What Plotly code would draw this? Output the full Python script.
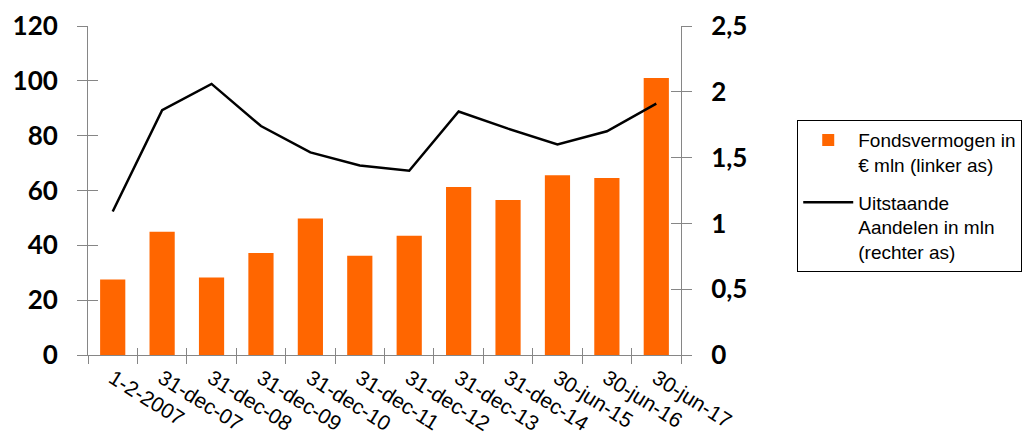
import plotly.graph_objects as go

categories = ["1-2-2007", "31-dec-07", "31-dec-08", "31-dec-09", "31-dec-10", "31-dec-11",
              "31-dec-12", "31-dec-13", "31-dec-14", "30-jun-15", "30-jun-16", "30-jun-17"]
fondsvermogen = [27.5, 45.0, 28.3, 37.2, 49.8, 36.2, 43.5, 61.3, 56.5, 65.6, 64.6, 101.0]
aandelen = [1.09, 1.86, 2.06, 1.74, 1.54, 1.44, 1.40, 1.85, 1.72, 1.60, 1.70, 1.91]
left_ticks = [0, 20, 40, 60, 80, 100, 120]
right_ticks = [0, 0.5, 1, 1.5, 2, 2.5]

AXC = "#868686"
LBL = dict(family="Lato, Calibri, sans-serif", size=26, color="black", weight="bold")
ARIAL = "Liberation Sans, Arial, sans-serif"

fig = go.Figure()
fig.add_trace(go.Bar(
    x=categories, y=fondsvermogen, name="Fondsvermogen in<br>€ mln (linker as)",
    marker=dict(color="#FF6600", line=dict(width=0)), yaxis="y", legendgroup="a"))
fig.add_trace(go.Scatter(
    x=categories, y=aandelen, name="Uitstaande<br>Aandelen in mln<br>(rechter as)",
    mode="lines", line=dict(color="black", width=2.5), yaxis="y2", legendgroup="b"))
# empty helper traces so the tick-only overlay axes get drawn
fig.add_trace(go.Scatter(x=[None], y=[None], xaxis="x2", yaxis="y3",
                         showlegend=False, hoverinfo="skip"))
fig.add_trace(go.Scatter(x=[None], y=[None], xaxis="x2", yaxis="y4",
                         showlegend=False, hoverinfo="skip"))

fig.update_layout(
    width=1025, height=439,
    margin=dict(l=88, r=344, t=26, b=84, autoexpand=False),
    paper_bgcolor="white", plot_bgcolor="white",
    separators=",.",
    bargap=0.49,
    showlegend=True,
    legend=dict(x=1.196, y=0.714, xanchor="left", yanchor="top",
                bordercolor="black", borderwidth=1, bgcolor="white",
                font=dict(family=ARIAL, size=19, color="black"),
                tracegroupgap=10, itemwidth=50, traceorder="grouped", valign="top"),
    xaxis=dict(type="category", categoryorder="array", categoryarray=categories,
               tickson="boundaries", ticks="outside", ticklen=8, tickcolor=AXC,
               showline=True, linecolor=AXC, linewidth=1, showgrid=False,
               tickangle=32, automargin=False, ticklabelstandoff=2,
               tickfont=dict(family=ARIAL, size=21, color="black"),
               range=[-0.5, 11.5]),
    xaxis2=dict(overlaying="x", anchor="y", range=[-0.5, 11.5], tick0=-0.5, dtick=1,
                ticks="inside", ticklen=7, tickcolor=AXC, showticklabels=False,
                showline=False, showgrid=False, zeroline=False, automargin=False),
    yaxis=dict(range=[0, 120], tickvals=left_ticks, ticks="outside", ticklen=10,
               tickcolor=AXC, showline=True, linecolor=AXC, linewidth=1, automargin=False,
               showgrid=False, zeroline=False, tickfont=LBL, ticklabelstandoff=14),
    yaxis2=dict(range=[0, 2.5], tickvals=right_ticks, overlaying="y", side="right",
                anchor="x", ticks="outside", ticklen=10, tickcolor=AXC, automargin=False,
                showline=True, linecolor=AXC, linewidth=1, showgrid=False,
                zeroline=False, tickfont=LBL, ticklabelstandoff=14),
    yaxis3=dict(range=[0, 120], tickvals=left_ticks, overlaying="y", side="left",
                anchor="x2", ticks="inside", ticklen=10, tickcolor=AXC, automargin=False,
                showticklabels=False, showline=False, showgrid=False, zeroline=False),
    yaxis4=dict(range=[0, 2.5], tickvals=right_ticks, overlaying="y", side="right",
                anchor="x2", ticks="inside", ticklen=10, tickcolor=AXC, automargin=False,
                showticklabels=False, showline=False, showgrid=False, zeroline=False),
)

fig.write_html("out.html")
